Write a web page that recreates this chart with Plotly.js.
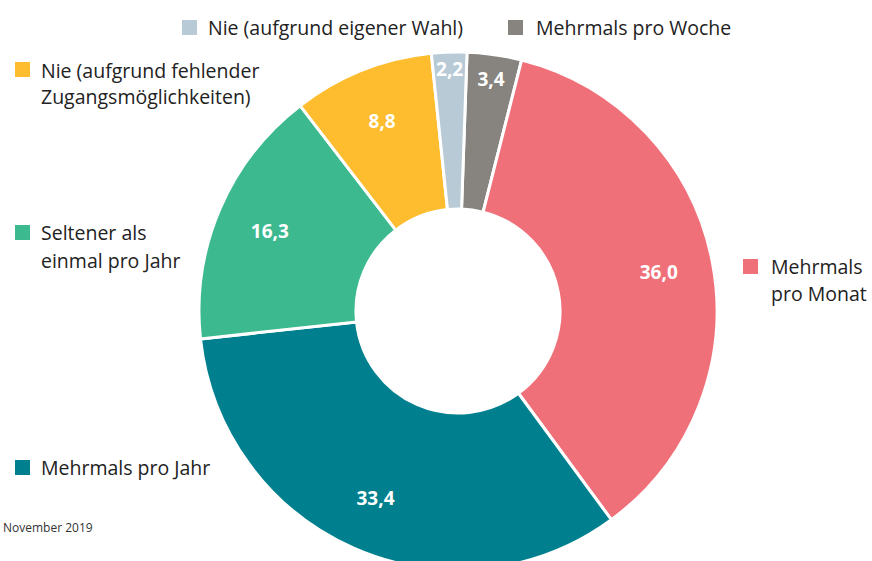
<!DOCTYPE html>
<html>
<head>
<meta charset="utf-8">
<script src="https://cdn.plot.ly/plotly-3.0.1.min.js"></script>
<style>
html, body { margin: 0; padding: 0; background: #fff; overflow: hidden; width: 872px; height: 561px; }
#chart { width: 872px; height: 600px; }
</style>
</head>
<body>
<div id="chart"></div>
<script>
// Data (clockwise from 12 o'clock)
const categories = [
  "Mehrmals pro Woche",
  "Mehrmals pro Monat",
  "Mehrmals pro Jahr",
  "Seltener als einmal pro Jahr",
  "Nie (aufgrund fehlender Zugangsmöglichkeiten)",
  "Nie (aufgrund eigener Wahl)"
];
const values = [3.4, 36.0, 33.4, 16.3, 8.8, 2.2];
const colors = ["#87847f", "#f0707a", "#00808e", "#3cb98f", "#fdbd2f", "#b7cad5"];
// Legend label lines (as in the reference)
const legendLines = [
  ["Mehrmals pro Woche"],
  ["Mehrmals", "pro Monat"],
  ["Mehrmals pro Jahr"],
  ["Seltener als", "einmal pro Jahr"],
  ["Nie (aufgrund fehlender", "Zugangsmöglichkeiten)"],
  ["Nie (aufgrund eigener Wahl)"]
];
const sourceNote = "November 2019";

const W = 872, H = 600;
const px = x => x / W;
const py = y => 1 - y / H;

const labelsText = values.map(v => v.toFixed(1).replace('.', ','));
const pieDomain = { x: [px(199), px(717)], y: [py(570), py(52)] };

// Donut ring
const ring = {
  type: 'pie',
  labels: categories,
  values: values,
  textinfo: 'none',
  sort: false,
  direction: 'clockwise',
  rotation: 2,
  hole: 0.394,
  marker: { colors: colors, line: { color: '#ffffff', width: 3 } },
  domain: pieDomain,
  showlegend: false,
  hoverinfo: 'label+value'
};

// Transparent overlay carrying the value labels further out in the ring
const valueLabels = {
  type: 'pie',
  labels: categories,
  values: values,
  text: labelsText,
  textinfo: 'text',
  textposition: 'inside',
  insidetextorientation: 'horizontal',
  sort: false,
  direction: 'clockwise',
  rotation: 2,
  hole: 0.58,
  marker: { colors: colors.map(() => 'rgba(0,0,0,0)'), line: { width: 0 } },
  textfont: { family: 'Open Sans, sans-serif', size: 19, color: '#ffffff', weight: 'bold' },
  domain: pieDomain,
  showlegend: false,
  hoverinfo: 'skip'
};

// legend placement: square left/top, text x, line centers y
const legendPos = [
  { sx: 508, sy: 20, tx: 534, ys: [27] },
  { sx: 743, sy: 259, tx: 769, ys: [266, 293] },
  { sx: 15, sy: 460, tx: 39, ys: [467] },
  { sx: 15, sy: 225, tx: 39, ys: [233, 260] },
  { sx: 15, sy: 62, tx: 39, ys: [70, 96] },
  { sx: 182, sy: 20, tx: 206, ys: [27] }
];

const shapes = [];
const annotations = [];
legendPos.forEach((p, i) => {
  shapes.push({
    type: 'rect', xref: 'paper', yref: 'paper',
    x0: px(p.sx), x1: px(p.sx + 15), y0: py(p.sy + 15), y1: py(p.sy),
    fillcolor: colors[i], line: { width: 0 }
  });
  legendLines[i].forEach((line, j) => {
    annotations.push({
      xref: 'paper', yref: 'paper', x: px(p.tx), y: py(p.ys[j]),
      xanchor: 'left', yanchor: 'middle', showarrow: false,
      text: line,
      font: { family: 'Open Sans, sans-serif', size: 19.5, color: '#222222' }
    });
  });
});
annotations.push({
  xref: 'paper', yref: 'paper', x: px(1), y: py(527),
  xanchor: 'left', yanchor: 'middle', showarrow: false,
  text: sourceNote,
  font: { family: 'Open Sans, sans-serif', size: 12, color: '#333333' }
});

const layout = {
  width: W, height: H,
  margin: { l: 0, r: 0, t: 0, b: 0 },
  paper_bgcolor: '#ffffff',
  shapes: shapes,
  annotations: annotations,
  uniformtext: { mode: 'show', minsize: 19 }
};

Plotly.newPlot('chart', [ring, valueLabels], layout, { displayModeBar: false, staticPlot: true });
</script>
</body>
</html>
